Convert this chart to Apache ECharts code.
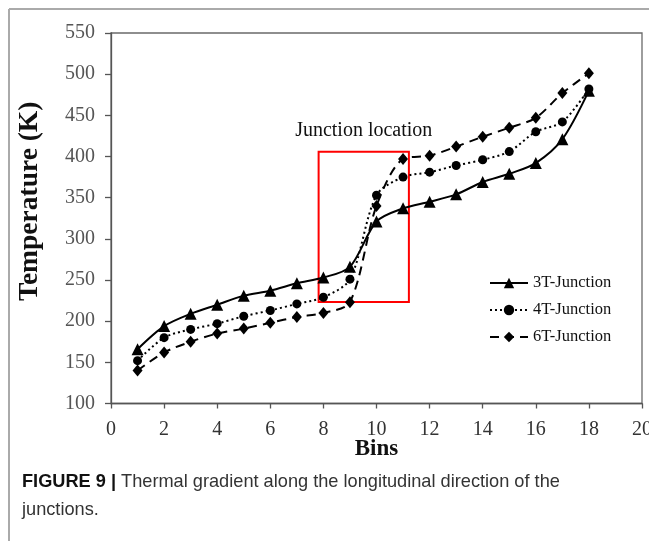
<!DOCTYPE html>
<html>
<head>
<meta charset="utf-8">
<script src="https://cdn.jsdelivr.net/npm/echarts@6/dist/echarts.min.js"></script>
<style>html,body{margin:0;padding:0;background:#fff;}#c{width:649px;height:541px;}</style>
</head>
<body>
<div id="c"></div>
<script>
var bins = [1,2,3,4,5,6,7,8,9,10,11,12,13,14,15,16,17,18];
var t3 = [166, 194, 209, 220, 231, 237, 246, 253, 266, 321, 337, 345, 354, 369, 379, 392, 421, 480];
var t4 = [152, 180, 190, 197, 206, 213, 221, 229, 251, 353, 375, 381, 389, 396, 406, 430, 442, 482];
var t6 = [140, 162, 175, 185, 191, 198, 205, 210, 223, 340, 397, 401, 412, 424, 435, 447, 477, 501];
var seriesNames = ['3T-Junction', '4T-Junction', '6T-Junction'];
var boxX = [7.82, 11.22];
var boxY = [405.7, 223.2];
var boxLabel = 'Junction location';

function pairs(v){ return bins.map(function(b,i){ return [b, v[i]]; }); }

var serif = '"Liberation Serif", "Times New Roman", serif';
var sans = '"Liberation Sans", Arial, sans-serif';
var chart = echarts.init(document.getElementById('c'), null, {renderer:'canvas'});
chart.setOption({
  animation: false,
  backgroundColor: '#fff',
  grid: {left: 111, right: 7, top: 33, bottom: 137.5, outerBoundsMode: 'none', containLabel: false, show: true, borderColor: '#6a6a6a', borderWidth: 1.3, backgroundColor: 'transparent'},
  xAxis: {
    type: 'value', min: 0, max: 20, interval: 2,
    name: 'Bins', nameLocation: 'middle', nameGap: 34, nameMoveOverlap: false,
    nameTextStyle: {fontFamily: serif, fontWeight: 'bold', fontSize: 23, color: '#111'},
    axisLine: {show: true, lineStyle: {color: '#555', width: 1.3}},
    axisTick: {show: true, inside: false, length: 5, lineStyle: {color: '#555', width: 1.3}},
    axisLabel: {fontFamily: serif, fontSize: 20, color: '#333', margin: 16},
    splitLine: {show: false}
  },
  yAxis: {
    type: 'value', min: 100, max: 550, interval: 50,
    name: 'Temperature (K)', nameLocation: 'middle', nameGap: 67, nameRotate: 90, nameMoveOverlap: false,
    nameTextStyle: {fontFamily: serif, fontWeight: 'bold', fontSize: 27.5, color: '#111', padding: [0, 0, 0, 34]},
    axisLine: {show: true, lineStyle: {color: '#555', width: 1.3}},
    axisTick: {show: true, inside: false, length: 6, lineStyle: {color: '#555', width: 1.3}},
    axisLabel: {fontFamily: serif, fontSize: 20, color: '#555', margin: 16},
    splitLine: {show: false}
  },
  legend: {
    orient: 'vertical', left: 484, top: 269.5,
    itemWidth: 38, itemHeight: 13, itemGap: 10,
    textStyle: {fontFamily: serif, fontSize: 16.5, color: '#111'},
    data: seriesNames
  },
  series: [
    {
      name: seriesNames[0], type: 'line', smooth: 0.3, data: pairs(t3),
      symbol: 'triangle', symbolSize: 12,
      itemStyle: {color: '#000'},
      lineStyle: {color: '#000', width: 2, type: 'solid'},
      markArea: {
        silent: true,
        itemStyle: {color: 'rgba(0,0,0,0)', borderColor: '#f00', borderWidth: 2},
        label: {show: true, position: 'top', distance: 10, formatter: boxLabel, fontFamily: serif, fontSize: 20, color: '#111'},
        data: [[{coord: [boxX[0], boxY[0]]}, {coord: [boxX[1], boxY[1]]}]]
      }
    },
    {
      name: seriesNames[1], type: 'line', smooth: 0.3, data: pairs(t4),
      symbol: 'circle', symbolSize: 9,
      itemStyle: {color: '#000'},
      lineStyle: {color: '#000', width: 2, type: [2, 3]}
    },
    {
      name: seriesNames[2], type: 'line', smooth: 0.3, data: pairs(t6),
      symbol: 'diamond', symbolSize: [10, 12],
      itemStyle: {color: '#000'},
      lineStyle: {color: '#000', width: 2, type: [9, 6]}
    }
  ],
  graphic: [
    {type: 'line', shape: {x1: 9, y1: 9, x2: 649, y2: 9}, style: {stroke: '#aaa', lineWidth: 2}},
    {type: 'line', shape: {x1: 9, y1: 9, x2: 9, y2: 541}, style: {stroke: '#aaa', lineWidth: 2}},
    {type: 'text', left: 22, top: 468, style: {
      text: '{b|FIGURE 9 |} Thermal gradient along the longitudinal direction of the\njunctions.',
      rich: {b: {fontWeight: 'bold', fontFamily: sans, fontSize: 18.2, fill: '#111'}},
      fontFamily: sans, fontSize: 18.2, fill: '#333', lineHeight: 28
    }}
  ]
});
</script>
</body>
</html>
